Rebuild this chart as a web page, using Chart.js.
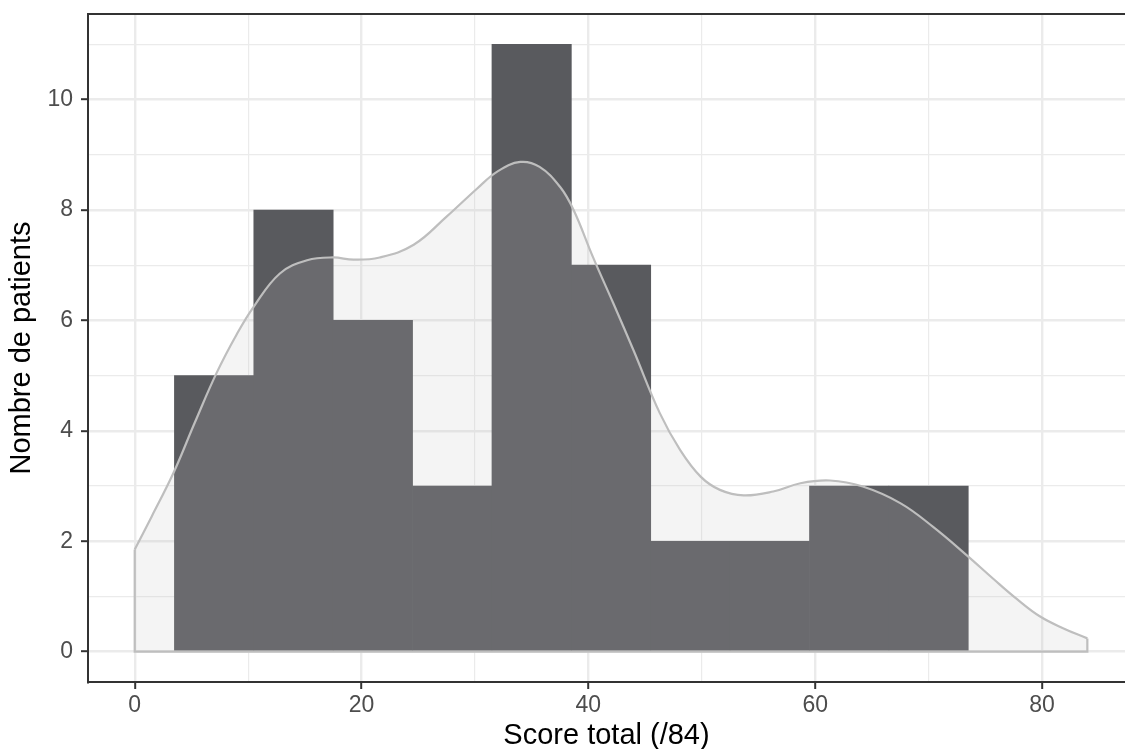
<!DOCTYPE html>
<html>
<head>
<meta charset="utf-8">
<script src="https://cdn.jsdelivr.net/npm/chart.js@4.4.0/dist/chart.umd.min.js"></script>
<style>
  html, body { margin: 0; padding: 0; background: #fff; }
  #wrap { width: 1125px; height: 749px; }
</style>
</head>
<body>
<div id="wrap"><canvas id="histChart"></canvas></div>
<script>
// histogram bins (width 7), centres and counts
const binCenters = [7, 14, 21, 28, 35, 42, 49, 56, 63, 70];
const counts = [5, 8, 6, 3, 11, 7, 2, 2, 3, 3];

// density curve scaled to counts
const densityX = [0, 1.5, 3.4, 5.3, 7.2, 9, 10.5, 12.8, 15.2, 17.5, 19.3, 21.6, 24.6, 27.5, 30.2, 32, 34, 35.7, 37.5, 38.7, 40.4, 42.2, 44, 46.3, 48.1, 49.9, 51.6, 53.7, 56.3, 58.7, 61.3, 64.2, 67.5, 70.4, 73.4, 75.7, 77.8, 79.8, 81.9, 84];
const densityY = [1.85, 2.45, 3.23, 4.15, 5.04, 5.75, 6.25, 6.85, 7.09, 7.14, 7.10, 7.14, 7.37, 7.88, 8.39, 8.7, 8.87, 8.78, 8.42, 8.0, 7.15, 6.31, 5.45, 4.32, 3.65, 3.17, 2.93, 2.83, 2.9, 3.05, 3.1, 2.99, 2.69, 2.26, 1.74, 1.32, 0.95, 0.64, 0.42, 0.24];

// axis ticks
const xTicks = [0, 10, 20, 30, 40, 50, 60, 70, 80];
const xLabelled = [0, 20, 40, 60, 80];
const yTicks = [0, 1, 2, 3, 4, 5, 6, 7, 8, 9, 10, 11];
const yLabelled = [0, 2, 4, 6, 8, 10];

const barColor = '#595a5e';
const lineColor = '#bebebe';
const gridColor = '#ebebeb';
const axisColor = '#333333';

const last = densityX.length - 1;

const topBorder = {
    id: 'topBorder',
    afterDraw(chart) {
        const { ctx, chartArea } = chart;
        ctx.save();
        ctx.strokeStyle = axisColor;
        ctx.lineWidth = 2;
        ctx.beginPath();
        ctx.moveTo(chartArea.left, chartArea.top);
        ctx.lineTo(chartArea.right, chartArea.top);
        ctx.stroke();
        ctx.restore();
    }
};

function isMajor(list, v) {
    return list.indexOf(v) !== -1;
}

const ctx = document.getElementById('histChart').getContext('2d');
new Chart(ctx, {
    type: 'bar',
    data: {
        datasets: [
            {
                type: 'line',
                label: 'bords',
                data: [
                    { x: densityX[0], y: densityY[0] },
                    { x: densityX[0], y: 0 },
                    { x: densityX[last], y: 0 },
                    { x: densityX[last], y: densityY[last] }
                ],
                borderColor: lineColor,
                borderWidth: 2.2,
                pointRadius: 0,
                tension: 0,
                fill: false,
                order: 0
            },
            {
                type: 'line',
                label: 'densité',
                data: densityX.map((x, i) => ({ x: x, y: densityY[i] })),
                borderColor: lineColor,
                borderWidth: 2.2,
                backgroundColor: 'rgba(190, 190, 190, 0.17)',
                fill: 'origin',
                pointRadius: 0,
                tension: 0.4,
                order: 1
            },
            {
                type: 'bar',
                label: 'patients',
                data: binCenters.map((x, i) => ({ x: x, y: counts[i] })),
                backgroundColor: barColor,
                borderWidth: 0,
                barPercentage: 1,
                categoryPercentage: 1,
                order: 2
            }
        ]
    },
    options: {
        responsive: true,
        maintainAspectRatio: false,
        animation: false,
        layout: { padding: { top: 14, left: 0, right: 0, bottom: 0 } },
        plugins: {
            legend: { display: false },
            tooltip: { enabled: false }
        },
        scales: {
            x: {
                type: 'linear',
                min: -4.12,
                max: 87.32,
                offset: false,
                afterBuildTicks: scale => {
                    scale.ticks = xTicks.map(v => ({ value: v }));
                },
                afterFit: scale => {
                    scale.height = 67;
                    scale.paddingLeft = 0;
                    scale.paddingRight = 0;
                },
                grid: {
                    offset: false,
                    color: gridColor,
                    lineWidth: c => isMajor(xLabelled, c.tick.value) ? 2.4 : 1.2,
                    tickLength: 7,
                    tickWidth: 2,
                    tickColor: c => isMajor(xLabelled, c.tick.value) ? axisColor : 'rgba(0,0,0,0)'
                },
                border: { color: axisColor, width: 2 },
                ticks: {
                    autoSkip: false,
                    maxRotation: 0,
                    padding: 3,
                    color: '#4d4d4d',
                    font: { family: '"Liberation Sans", Arial, sans-serif', size: 23 },
                    callback: v => isMajor(xLabelled, v) ? String(v) : ''
                },
                title: {
                    display: true,
                    text: 'Score total (/84)',
                    color: '#000000',
                    padding: { top: 0, bottom: -1 },
                    font: { family: '"Liberation Sans", Arial, sans-serif', size: 29, lineHeight: 1 }
                }
            },
            y: {
                min: -0.55,
                max: 11.55,
                afterBuildTicks: scale => {
                    scale.ticks = yTicks.map(v => ({ value: v }));
                },
                afterFit: scale => {
                    scale.width = 88;
                    scale.paddingTop = 0;
                    scale.paddingBottom = 0;
                },
                grid: {
                    color: gridColor,
                    lineWidth: c => isMajor(yLabelled, c.tick.value) ? 2.4 : 1.2,
                    tickLength: 7,
                    tickWidth: 2,
                    tickColor: c => isMajor(yLabelled, c.tick.value) ? axisColor : 'rgba(0,0,0,0)'
                },
                border: { color: axisColor, width: 2 },
                ticks: {
                    autoSkip: false,
                    padding: 8,
                    color: '#4d4d4d',
                    font: { family: '"Liberation Sans", Arial, sans-serif', size: 23 },
                    callback: v => isMajor(yLabelled, v) ? String(v) : ''
                },
                title: {
                    display: true,
                    text: 'Nombre de patients',
                    color: '#000000',
                    padding: { top: 7, bottom: 0 },
                    font: { family: '"Liberation Sans", Arial, sans-serif', size: 29, lineHeight: 1 }
                }
            }
        }
    },
    plugins: [topBorder]
});
</script>
</body>
</html>
